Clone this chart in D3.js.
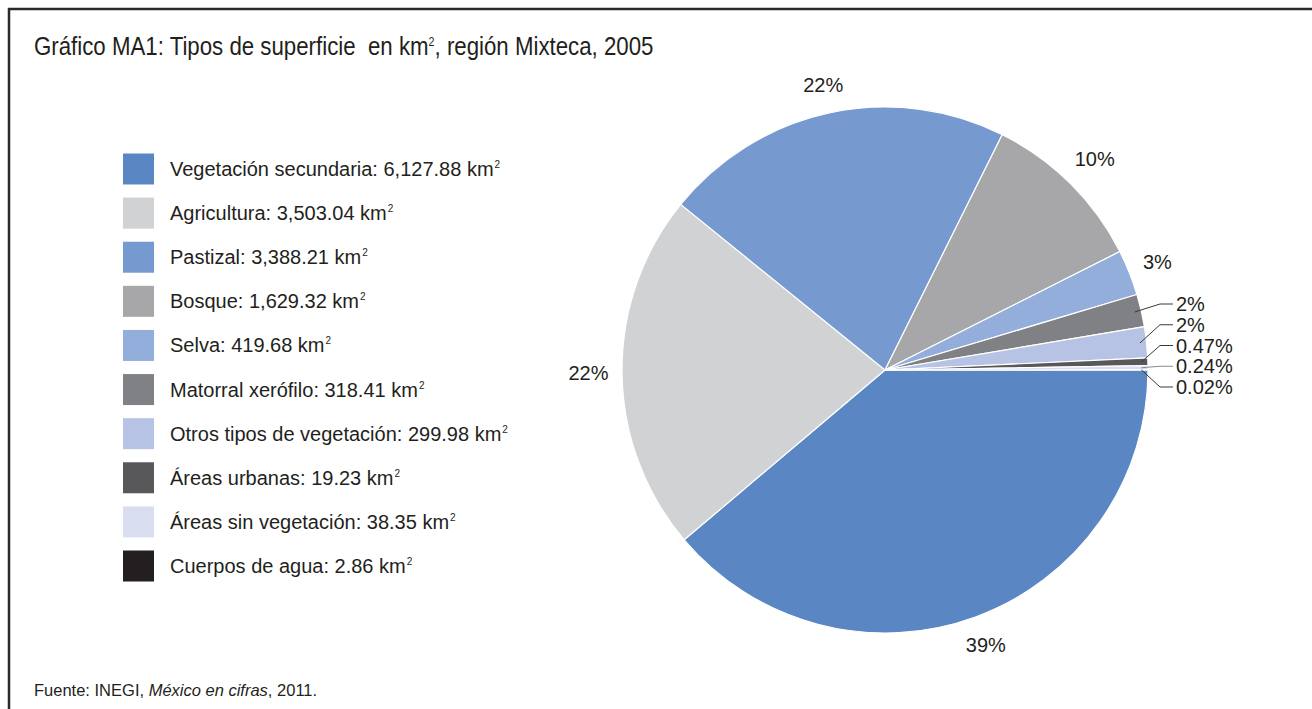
<!DOCTYPE html>
<html>
<head>
    <meta charset="utf-8">
    <title>Tipos de superficie, región Mixteca</title>
    <script src="https://cdnjs.cloudflare.com/ajax/libs/d3/7.8.5/d3.min.js"></script>
    <style>
        body {
            margin: 0;
            background: white;
            font-family: "Liberation Sans", Arial, sans-serif;
        }
        svg text { fill: #231f20; white-space: pre; }
    </style>
</head>
<body>
    <svg id="chart" width="1312" height="709"></svg>

    <script>
        // legend values (km2) as printed in the chart
        const categories = [
            "Vegetación secundaria", "Agricultura", "Pastizal", "Bosque", "Selva",
            "Matorral xerófilo", "Otros tipos de vegetación", "Áreas urbanas",
            "Áreas sin vegetación", "Cuerpos de agua"
        ];
        const areas = [6127.88, 3503.04, 3388.21, 1629.32, 419.68, 318.41, 299.98, 19.23, 38.35, 2.86];
        // slice shares (%) as drawn in the pie
        const shares = [38.8, 22.0, 21.5, 10.2, 2.8, 2.0, 1.9, 0.47, 0.24, 0.02];
        const pctLabels = ["39%", "22%", "22%", "10%", "3%", "2%", "2%", "0.47%", "0.24%", "0.02%"];
        const colors = ["#5a87c4", "#d1d2d4", "#7699cf", "#a7a7a9", "#94aedb",
                        "#808184", "#b7c3e4", "#58585a", "#d9ddf0", "#231f20"];

        const svg = d3.select("#chart");

        // frame
        svg.append("path")
            .attr("d", "M9,709 V9 H1312")
            .attr("fill", "none")
            .attr("stroke", "#2a2a2a")
            .attr("stroke-width", 2.5);

        // title (condensed to the original width)
        const tg = svg.append("g");
        const title = tg.append("text")
            .style("font-size", "25px");
        title.append("tspan").text("Gráfico MA1: Tipos de superficie  en km");
        title.append("tspan").attr("dy", -9).style("font-size", "12px").text("2");
        title.append("tspan").attr("dy", 9).text(", región Mixteca, 2005");
        const tw = title.node().getBBox().width;
        tg.attr("transform", `translate(34,55) scale(${620 / tw},1)`);

        // legend
        const fmt = d3.format(",.2f");
        const ly = d3.scaleLinear().domain([0, categories.length - 1]).range([169, 566]);
        const legend = svg.append("g");
        const rows = legend.selectAll("g")
            .data(categories)
            .join("g")
            .attr("transform", (d, i) => `translate(0,${ly(i)})`);
        rows.append("rect")
            .attr("x", 123)
            .attr("y", -15.5)
            .attr("width", 31)
            .attr("height", 31)
            .attr("fill", (d, i) => colors[i]);
        const lt = rows.append("text")
            .attr("x", 170)
            .attr("y", 7)
            .style("font-size", "20px");
        lt.append("tspan").text((d, i) => `${d}: ${fmt(areas[i])} km`);
        lt.append("tspan").attr("dx", 1).attr("dy", -8).style("font-size", "10px").text("2");

        // pie
        const cx = 885, cy = 370, r = 263;
        const pie = d3.pie().sort(null).value(d => d)
            .startAngle(Math.PI / 2).endAngle(Math.PI / 2 + 2 * Math.PI);
        const arcs = pie(shares);
        const arc = d3.arc().innerRadius(0).outerRadius(r);

        const g = svg.append("g").attr("transform", `translate(${cx},${cy})`);
        g.selectAll("path")
            .data(arcs)
            .join("path")
            .attr("d", arc)
            .attr("fill", (d, i) => colors[i])
            .attr("stroke", "white")
            .attr("stroke-width", 1.2)
            .attr("stroke-linejoin", "round");

        // angle helpers (d3 angles start at 12 o'clock, clockwise)
        const mid = d => (d.startAngle + d.endAngle) / 2;
        const px = (a, rad) => Math.sin(a) * rad;
        const py = (a, rad) => -Math.cos(a) * rad;

        // big slice labels placed outside the rim
        const big = arcs.map((d, i) => ({ d, i })).filter(o => shares[o.i] >= 2.5);
        const labelSize = 20;
        const labelR = o => {
            const a = mid(o.d), hw = pctLabels[o.i].length * 5.5, hh = 8;
            return r + 17 + Math.abs(Math.sin(a)) * hw + Math.abs(Math.cos(a)) * hh;
        };
        g.selectAll("text.big")
            .data(big)
            .join("text")
            .attr("class", "big")
            .style("font-size", labelSize + "px")
            .attr("text-anchor", "middle")
            .attr("dominant-baseline", "central")
            .attr("x", o => px(mid(o.d), labelR(o)))
            .attr("y", o => py(mid(o.d), labelR(o)))
            .text(o => pctLabels[o.i]);

        // small slice labels with leader lines
        const small = arcs.map((d, i) => ({ d, i })).filter(o => shares[o.i] < 2.5);
        const sy = d3.scaleLinear().domain([0, small.length - 1]).range([304 - cy, 387 - cy]);
        const elbowX = 1160 - cx, endX = 1173 - cx;
        g.selectAll("path.leader")
            .data(small)
            .join("path")
            .attr("class", "leader")
            .attr("fill", "none")
            .attr("stroke", (o, k) => k === 3 ? "#8a8a8a" : "#3a3a3a")
            .attr("stroke-width", 1)
            .attr("d", (o, k) => {
                const a = mid(o.d);
                const x0 = px(a, r * 0.975), y0 = py(a, r * 0.975);
                return `M${x0},${y0} L${elbowX},${sy(k)} H${endX}`;
            });
        g.selectAll("text.small")
            .data(small)
            .join("text")
            .attr("class", "small")
            .style("font-size", labelSize + "px")
            .attr("dominant-baseline", "central")
            .attr("x", endX + 3)
            .attr("y", (o, k) => sy(k))
            .text(o => pctLabels[o.i]);

        // source note
        const src = svg.append("text")
            .attr("x", 34)
            .attr("y", 696)
            .style("font-size", "16.5px");
        src.append("tspan").text("Fuente: INEGI, ");
        src.append("tspan").style("font-style", "italic").text("México en cifras");
        src.append("tspan").text(", 2011.");
    </script>
</body>
</html>
